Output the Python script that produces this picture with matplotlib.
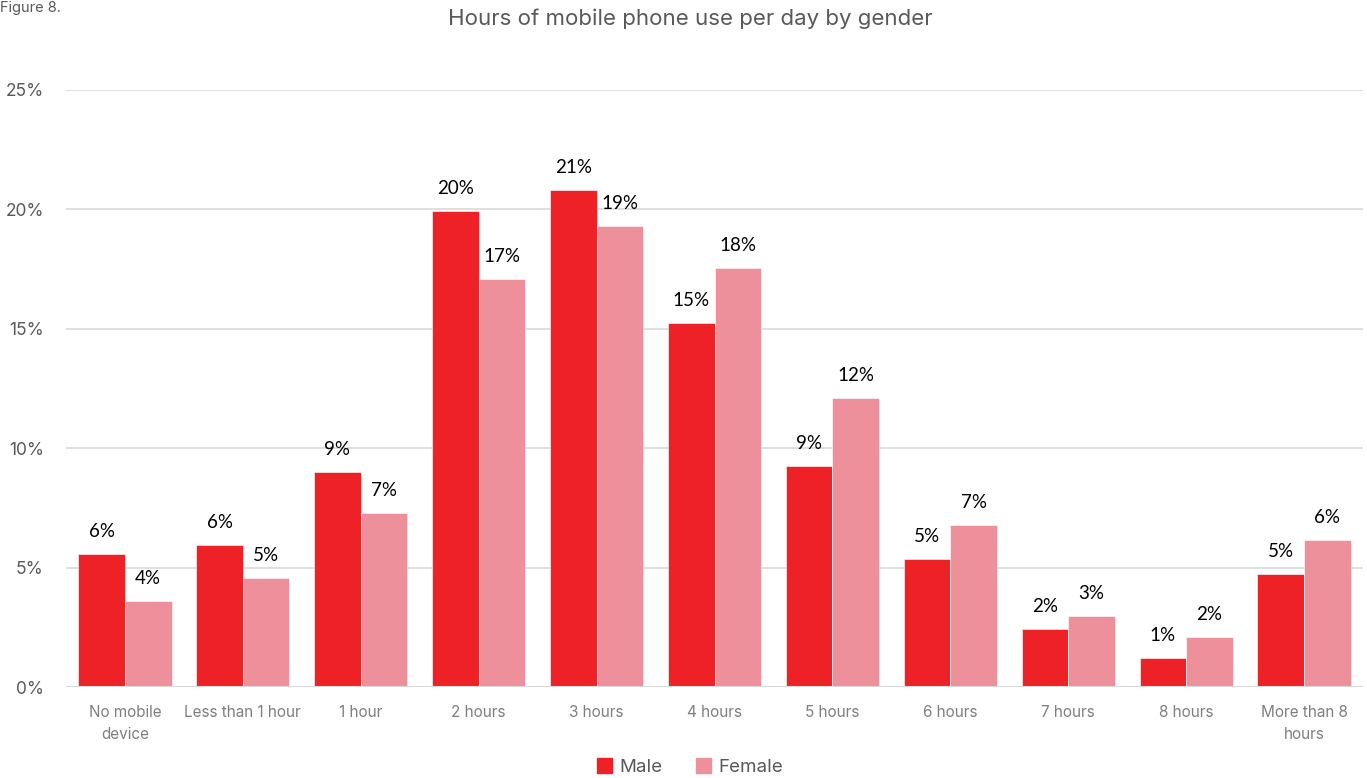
import matplotlib
matplotlib.use("Agg")
import matplotlib.pyplot as plt
import numpy as np
from matplotlib.patches import Patch

categories = ["No mobile\ndevice", "Less than 1 hour", "1 hour", "2 hours", "3 hours",
              "4 hours", "5 hours", "6 hours", "7 hours", "8 hours", "More than 8\nhours"]
male = [5.57, 5.95, 9.00, 19.93, 20.81, 15.24, 9.25, 5.36, 2.43, 1.21, 4.73]
female = [3.60, 4.56, 7.29, 17.09, 19.30, 17.55, 12.10, 6.78, 2.97, 2.09, 6.16]
yticks = [0, 5, 10, 15, 20, 25]

male_color = "#EE2226"
female_color = "#EE8F9C"
grey = "#595959"

fig = plt.figure(figsize=(13.67, 7.78), dpi=100)
ax = fig.add_axes([66 / 1367, 1 - 687 / 778, (1363 - 66) / 1367, (687 - 90) / 778])

x = np.arange(len(categories))
w = 0.395
bm = ax.bar(x - w / 2, male, w, color=male_color, edgecolor="white", linewidth=0.4, zorder=3)
bf = ax.bar(x + w / 2, female, w, color=female_color, edgecolor="white", linewidth=0.4, zorder=3)

for bars, vals in ((bm, male), (bf, female)):
    for b, v in zip(bars, vals):
        ax.annotate(f"{v:.0f}%", (b.get_x() + b.get_width() / 2, v),
                    xytext=(0, 10), textcoords="offset points", ha="center", va="bottom",
                    fontsize=13.5, color="black", family=["Lato", "DejaVu Sans"])

ax.set_xlim(-0.5, len(categories) - 0.5)
ax.set_ylim(0, 25)
ax.set_yticks(yticks)
ax.set_yticklabels([f"{t}%" for t in yticks], fontsize=12.5, color=grey,
                   family=["Inter", "DejaVu Sans"])
ax.set_xticks(x)
ax.set_xticklabels(categories, fontsize=11, color="#7F7F7F", family=["Inter", "DejaVu Sans"],
                   linespacing=1.6)
ax.tick_params(axis="both", length=0)
ax.tick_params(axis="x", pad=13)
ax.tick_params(axis="y", pad=16)
ax.yaxis.grid(True, color="#D9D9D9", linewidth=1.2, zorder=0)
for s in ax.spines.values():
    s.set_visible(False)
ax.axhline(0, color="#D9D9D9", linewidth=1.5, zorder=4)

fig.text(690 / 1367, 1 - 19 / 778, "Hours of mobile phone use per day by gender",
         ha="center", va="center", fontsize=16, color=grey, family=["Inter", "DejaVu Sans"])
fig.text(0.0, 1 - 1 / 778, "Figure 8.", ha="left", va="top", fontsize=10.5, color=grey,
         family=["Inter", "DejaVu Sans"])

handles = [Patch(color=male_color, label="Male"), Patch(color=female_color, label="Female")]
fig.legend(handles=handles, loc="center", bbox_to_anchor=(690 / 1367, 1 - 767 / 778), ncol=2,
           frameon=False, prop={"family": ["Inter", "DejaVu Sans"], "size": 13.5},
           labelcolor=grey, handlelength=0.8, handleheight=0.8, handletextpad=0.4,
           columnspacing=1.8)

fig.savefig("out.png", dpi=100)
